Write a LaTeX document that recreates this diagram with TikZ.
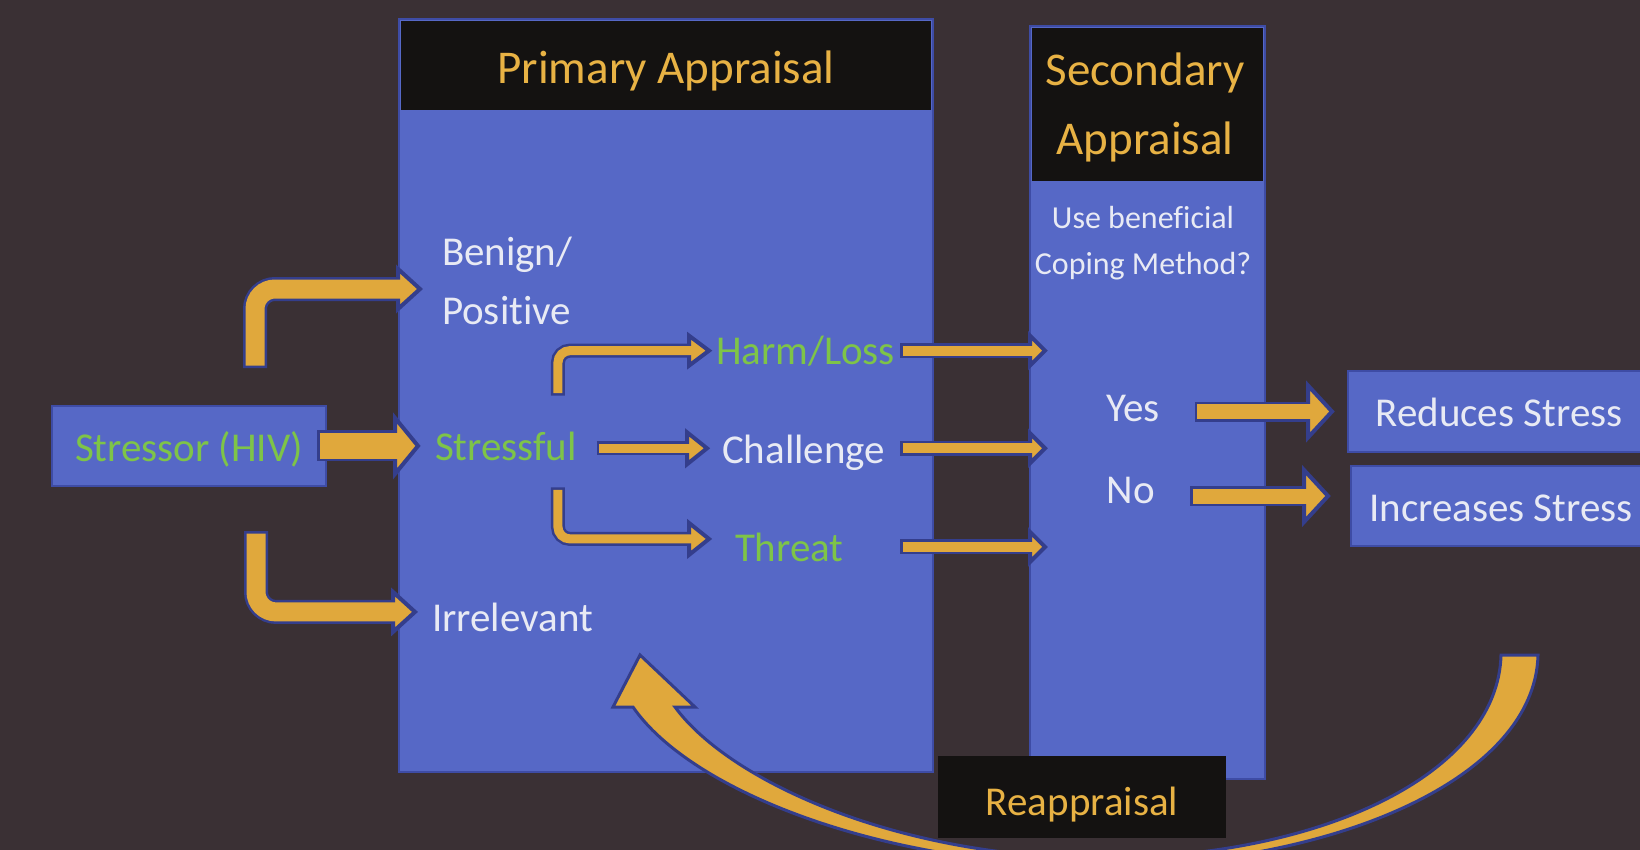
\documentclass[tikz,border=0pt]{standalone}
\usepackage{fontspec}
\setmainfont{Carlito}[Ligatures={NoCommon}]

\definecolor{backdrop}{RGB}{58,48,52}
\definecolor{panelblue}{RGB}{86,104,198}
\definecolor{panelrim}{RGB}{62,76,165}
\definecolor{headblack}{RGB}{20,18,17}
\definecolor{arrowgold}{RGB}{224,168,60}
\definecolor{edgeblue}{RGB}{52,62,140}
\definecolor{titlegold}{RGB}{232,178,68}
\definecolor{leafgreen}{RGB}{126,196,72}
\definecolor{softwhite}{RGB}{232,234,244}

\newcommand{\lblfont}{\fontsize{41}{59}\selectfont}
\newcommand{\hdfont}{\fontsize{47}{69}\selectfont}
\newcommand{\smfont}{\fontsize{32}{46}\selectfont}

\tikzset{
  panel/.style={fill=panelblue, draw=panelrim, line width=2, inner sep=0, outer sep=0, anchor=north west},
  headbar/.style={fill=headblack, inner sep=0, outer sep=0, anchor=north west},
  blockbox/.style={fill=panelblue, draw=panelrim, line width=1.5, inner sep=0, outer sep=0, anchor=north west,
    font=\lblfont, text height=34, text depth=4},
  txt/.style={inner sep=0, outer sep=0, font=\lblfont, text=softwhite},
  hot/.style={txt, text=leafgreen},
  titletxt/.style={inner sep=0, outer sep=0, font=\hdfont, text=titlegold},
  shaftedge/.style={draw=edgeblue},
  shaftgold/.style={draw=arrowgold},
  headpart/.style={fill=arrowgold, draw=edgeblue, line width=4, line join=miter, sharp corners},
}

% two-tone block arrow pointing right
% [path op]{start}{tip}{shaft width}{head length}{head half width}
\newcommand{\fatarrow}[6][--]{%
  \draw[shaftedge, line width=#4+5] (#2) #1 ([xshift=-#5]#3);
  \filldraw[headpart] (#3) -- ++(-#5,#6) -- ++(0,-2*#6) -- cycle;
  \draw[shaftgold, line width=#4, shorten <=2.5] (#2) #1 ([xshift=-#5+3]#3);
}

\begin{document}
\begin{tikzpicture}[x=1pt, y=-1pt]

\useasboundingbox (0,0) rectangle (1640,850);
\fill[backdrop] (0,0) rectangle (1640,850);

% primary appraisal panel
\node[panel, minimum width=534, minimum height=753] (primary) at (399,19) {};
\node[headbar, minimum width=530, minimum height=89] (primaryhead) at (401,21) {};
\node[titletxt, anchor=base] (primarytitle) at (666,84) {Primary Appraisal};

% secondary appraisal panel
\node[panel, minimum width=235, minimum height=753] (secondary) at (1030,26) {};
\node[headbar, minimum width=231, minimum height=153] (secondhead) at (1032,28) {};
\node[titletxt, align=center] (secondtitle) at (1145,107) {Secondary\\Appraisal};
\node[txt, align=center, font=\smfont] (question) at (1143,243) {Use beneficial\\Coping Method?};

% labels inside the panels
\node[txt, align=left, anchor=west] (benign) at (442,281) {Benign/\\Positive};
\node[hot, anchor=base west] (stressful) at (435,460) {Stressful};
\node[txt, anchor=base west] (irrelevant) at (432,631) {Irrelevant};
\node[hot, anchor=base west] (harm) at (716,364) {Harm/Loss};
\node[txt, anchor=base west] (challenge) at (722,463) {Challenge};
\node[hot, anchor=base west] (threat) at (735,561) {Threat};
\node[txt, anchor=base] (yes) at (1133,421) {Yes};
\node[txt, anchor=base] (no) at (1131,503) {No};

% input and outcome boxes
\node[blockbox, text=leafgreen, minimum width=274, minimum height=80] (stressor) at (52,406) {Stressor (HIV)};
\node[blockbox, text=softwhite, minimum width=302, minimum height=81] (reduces) at (1348,371) {Reduces Stress};
\node[blockbox, text=softwhite, minimum width=300, minimum height=80] (increases) at (1351,466) {Increases Stress};

% stressor splits three ways
\coordinate (tipBenign) at ([xshift=-22,yshift=-8]benign.west);
\coordinate (tipStressful) at ([xshift=-17]stressful.west);
\coordinate (tipIrrelevant) at ([xshift=-17,yshift=5]irrelevant.west);
\begin{scope}[rounded corners=20]
\fatarrow[|-]{[xshift=66,yshift=38]stressor.north}{tipBenign}{19}{22}{20}
\fatarrow[|-]{[xshift=67,yshift=-45]stressor.south}{tipIrrelevant}{19}{22}{20}
\end{scope}
\fatarrow{[xshift=-9]stressor.east |- tipStressful}{tipStressful}{26}{23}{28}

% stressful splits into harm, challenge, threat
\coordinate (tipHarm) at ([xshift=-7]harm.west);
\coordinate (tipChallenge) at ([xshift=-15,yshift=4]challenge.west);
\coordinate (tipThreat) at ([xshift=-26,yshift=8]threat.west);
\begin{scope}[rounded corners=12]
\fatarrow[|-]{[xshift=52,yshift=36]stressful.north}{tipHarm}{9}{20}{15}
\fatarrow[|-]{[xshift=52,yshift=-27]stressful.south}{tipThreat}{9}{20}{16}
\end{scope}
\fatarrow{[xshift=20]stressful.east |- tipChallenge}{tipChallenge}{9}{20}{16}

% on to the secondary appraisal
\coordinate (tipHarmOut) at ([xshift=15]secondary.west |- harm.west);
\coordinate (tipChallengeOut) at ([xshift=15]secondary.west |- tipChallenge);
\coordinate (tipThreatOut) at ([xshift=15]secondary.west |- threat.west);
\fatarrow{[xshift=-33]primary.east |- tipHarmOut}{tipHarmOut}{10}{15}{15}
\fatarrow{[xshift=-33]primary.east |- tipChallengeOut}{tipChallengeOut}{10}{15}{15}
\fatarrow{[xshift=-33]primary.east |- tipThreatOut}{tipThreatOut}{10}{15}{15}

% yes / no outcomes
\coordinate (tipReduces) at ([xshift=-16]reduces.west);
\coordinate (tipIncreases) at ([xshift=-23,yshift=10]increases.west);
\fatarrow{[xshift=35]yes.east |- tipReduces}{tipReduces}{15}{24}{26}
\fatarrow{[xshift=35]no.east |- tipIncreases}{tipIncreases}{15}{24}{26}

% reappraisal loop back into the primary panel
\filldraw[fill=arrowgold, draw=edgeblue, line width=3, line join=miter]
  (1538,655) .. controls (1535,780) and (1330,866) .. (1100,866)
  .. controls (880,866) and (690,790) .. (633,707)
  -- (613,707) -- (640,655) -- (695,707) -- (675,707)
  .. controls (730,782) and (900,858) .. (1100,858)
  .. controls (1325,858) and (1498,772) .. (1501,655) -- cycle;

\node[headbar, minimum width=288, minimum height=82, font=\lblfont, text=titlegold,
  text height=40, text depth=4] (reappraisal) at (938,756) {Reappraisal};

\end{tikzpicture}
\end{document}
